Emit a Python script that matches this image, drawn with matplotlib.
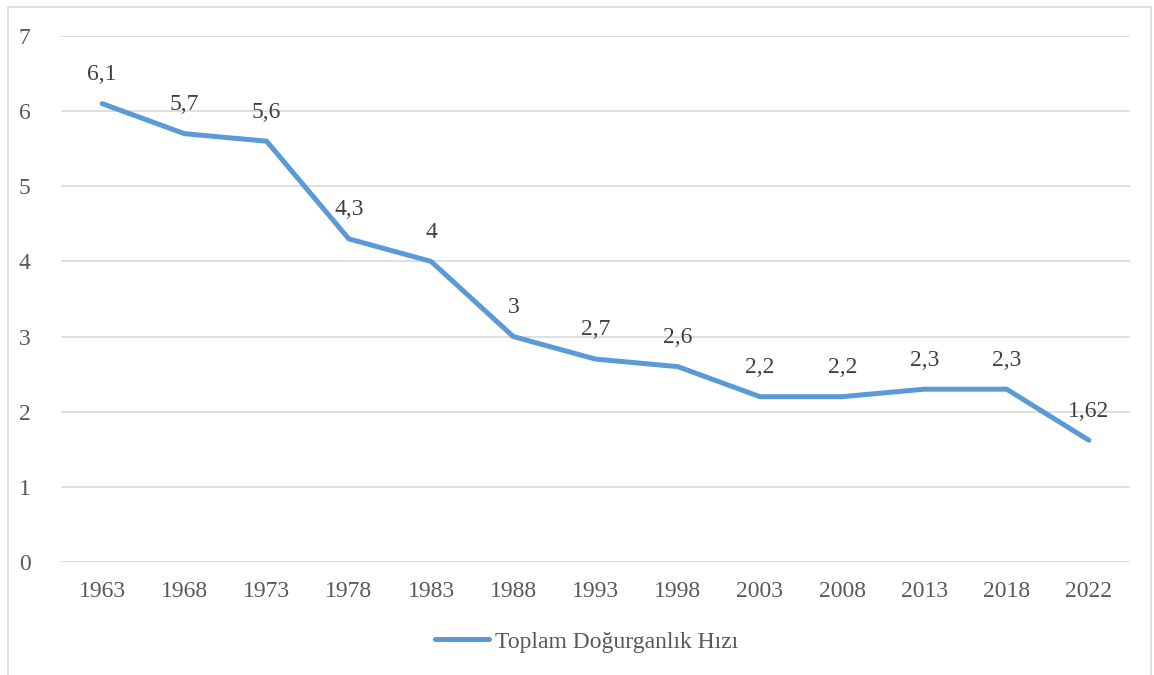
import matplotlib.pyplot as plt
from matplotlib.patches import Rectangle

years = ["1963", "1968", "1973", "1978", "1983", "1988", "1993",
         "1998", "2003", "2008", "2013", "2018", "2022"]
tfr = [6.1, 5.7, 5.6, 4.3, 4.0, 3.0, 2.7, 2.6, 2.2, 2.2, 2.3, 2.3, 1.62]
labels = ["6,1", "5,7", "5,6", "4,3", "4", "3", "2,7", "2,6",
          "2,2", "2,2", "2,3", "2,3", "1,62"]
series_name = "Toplam Doğurganlık Hızı"

plt.rcParams["font.family"] = ["Liberation Serif", "DejaVu Serif"]

fig = plt.figure(figsize=(11.54, 6.75), dpi=100)
ax = fig.add_axes([0.0529, 0.1674, 0.9263, 0.7793])

x = list(range(len(years)))
ax.plot(x, tfr, color="#5B9BD5", lw=3.6, solid_capstyle="round",
        solid_joinstyle="round", label=series_name, zorder=3)

for xi, yi, lab in zip(x, tfr, labels):
    ax.annotate(lab, (xi, yi), xytext=(0, 21), textcoords="offset points",
                ha="center", va="center", fontsize=17, color="#404040")

ax.set_xlim(-0.5, len(years) - 0.5)
ax.set_ylim(0, 7)
ax.set_yticks(range(0, 8))
ax.set_xticks(x)
ax.set_xticklabels(years)
ax.tick_params(axis="both", length=0, labelsize=17, labelcolor="#595959")
ax.tick_params(axis="y", pad=22)
ax.tick_params(axis="x", pad=14)
ax.grid(axis="y", color="#D9D9D9", lw=1.2)
ax.set_axisbelow(True)
for s in ax.spines.values():
    s.set_visible(False)

fig.legend(loc="center", bbox_to_anchor=(0.508, 0.049), frameon=False,
           fontsize=17, labelcolor="#595959", handlelength=2.3,
           handletextpad=0.25)

# outer chart border
fig.patches.append(Rectangle((8 / 1154, -0.02), 1143 / 1154, 1 - 7 / 675 + 0.02,
                             transform=fig.transFigure, fill=False,
                             edgecolor="#D9D9D9", lw=1.2))

fig.savefig("out.png", dpi=100)
